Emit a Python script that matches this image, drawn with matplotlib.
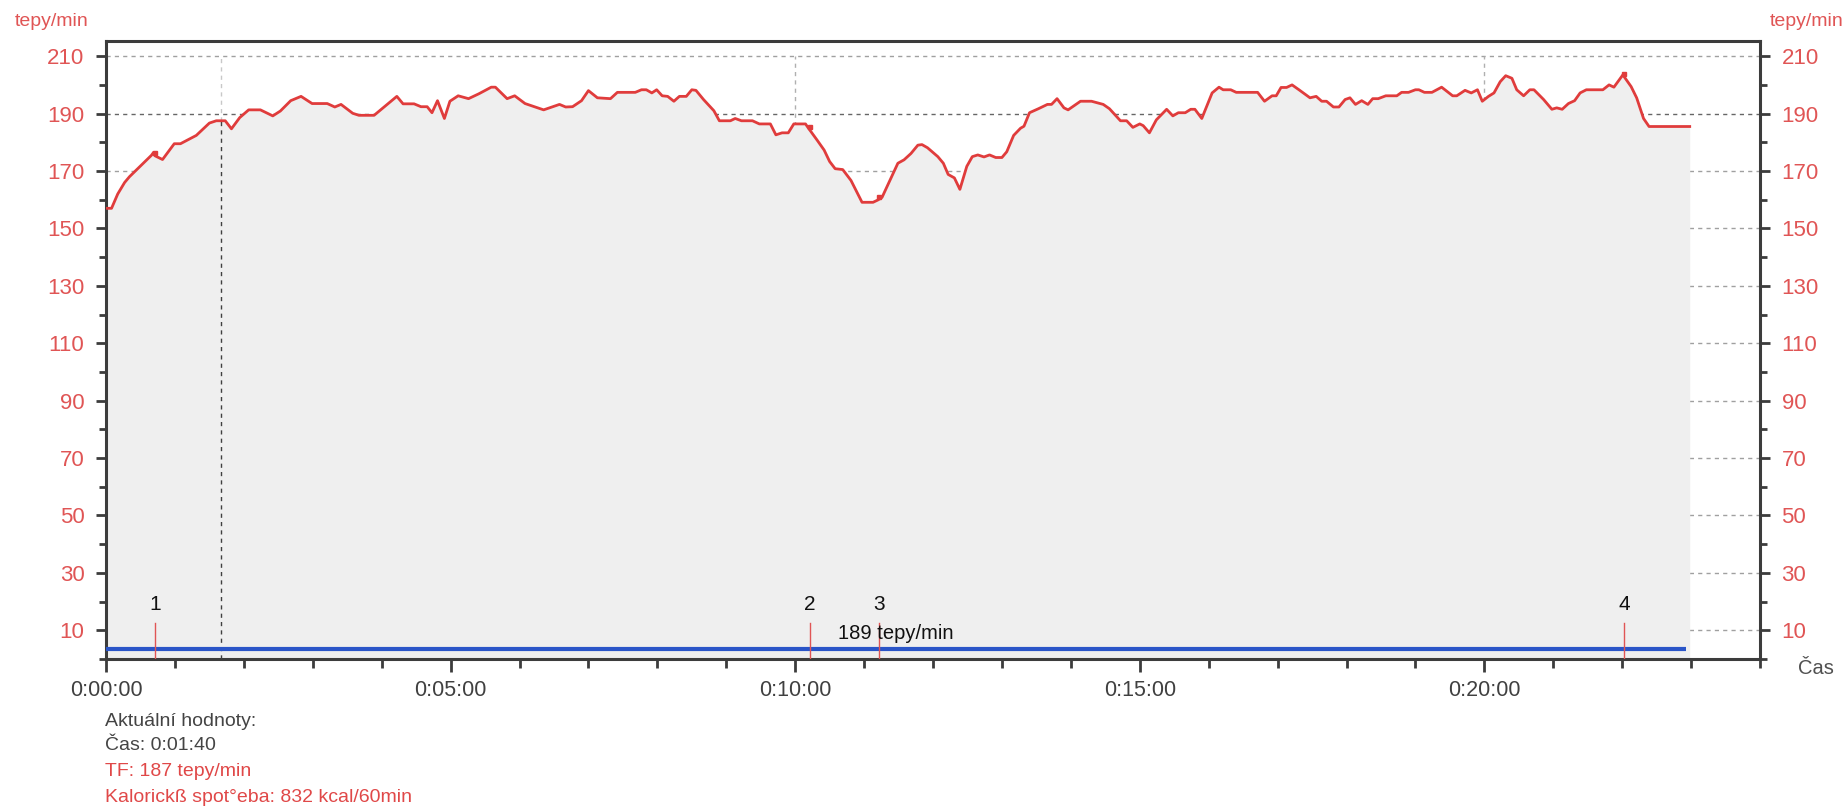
import numpy as np
import matplotlib
matplotlib.use("Agg")
import matplotlib.pyplot as plt

# heart rate record, time in minutes
t_min = [0.0, 0.08, 0.17, 0.27, 0.34, 0.66, 0.69, 0.71, 0.82, 0.99, 1.08, 1.31, 1.50, 1.60, 1.73,
         1.82, 1.94, 2.07, 2.24, 2.42, 2.53, 2.68, 2.83, 2.99, 3.21, 3.32, 3.41, 3.58, 3.67, 3.89,
         4.22, 4.31, 4.47, 4.57, 4.66, 4.73, 4.81, 4.91, 4.99, 5.11, 5.26, 5.41, 5.59, 5.65, 5.82,
         5.93, 6.08, 6.35, 6.58, 6.67, 6.77, 6.90, 7.00, 7.13, 7.32, 7.42, 7.68, 7.77, 7.84, 7.92,
         7.99, 8.07, 8.15, 8.24, 8.32, 8.42, 8.50, 8.56, 8.67, 8.82, 8.90, 9.06, 9.13, 9.22, 9.38,
         9.48, 9.64, 9.72, 9.81, 9.90, 9.98, 10.15, 10.19, 10.32, 10.42, 10.50, 10.58, 10.69, 10.81,
         10.97, 11.13, 11.20, 11.26, 11.49, 11.58, 11.68, 11.78, 11.84, 11.92, 12.07, 12.15, 12.22,
         12.31, 12.39, 12.49, 12.57, 12.65, 12.74, 12.82, 12.91, 13.00, 13.07, 13.17, 13.27, 13.32,
         13.40, 13.53, 13.66, 13.72, 13.80, 13.90, 13.96, 14.14, 14.30, 14.47, 14.56, 14.72, 14.81,
         14.90, 15.00, 15.05, 15.14, 15.24, 15.39, 15.48, 15.56, 15.66, 15.74, 15.80, 15.90, 16.05,
         16.15, 16.21, 16.32, 16.40, 16.71, 16.81, 16.92, 16.98, 17.05, 17.13, 17.21, 17.31, 17.47,
         17.56, 17.64, 17.71, 17.81, 17.89, 17.98, 18.05, 18.13, 18.22, 18.31, 18.38, 18.46, 18.57,
         18.73, 18.80, 18.90, 19.00, 19.05, 19.13, 19.24, 19.38, 19.54, 19.60, 19.72, 19.81, 19.90,
         19.97, 20.06, 20.14, 20.23, 20.31, 20.40, 20.47, 20.57, 20.66, 20.72, 20.86, 20.98, 21.05,
         21.13, 21.22, 21.31, 21.39, 21.48, 21.72, 21.81, 21.88, 22.01, 22.03, 22.13, 22.21, 22.31,
         22.39, 22.98]
hr = [157, 157, 162, 166, 168, 175.5, 176.5, 175.3, 174, 179.5, 179.5, 182.4, 186.7, 187.5, 187.5,
      184.7, 188.6, 191.3, 191.3, 189.2, 190.9, 194.5, 196, 193.5, 193.5, 192.3, 193.2, 190.1, 189.4, 189.4,
      196, 193.4, 193.4, 192.4, 192.4, 190.3, 194.5, 188.3, 194.3, 196.2, 195.2, 196.9, 199.2, 199.2, 195.2,
      196.2, 193.5, 191.3, 193.2, 192.3, 192.4, 194.5, 198, 195.5, 195.2, 197.4, 197.4, 198.3, 198.3, 197.2,
      198.3, 196.2, 196, 194.3, 196, 196, 198.3, 198.1, 194.9, 191, 187.5, 187.5, 188.3, 187.5, 187.5,
      186.4, 186.4, 182.6, 183.3, 183.3, 186.4, 186.4, 185, 180.7, 177.3, 173.3, 170.8, 170.5, 166.7,
      159.1, 159.1, 159.9, 160.8, 172.7, 173.9, 176.1, 179, 179.2, 178.1, 175, 172.7, 168.8,
      167.6, 163.6, 171.6, 175, 175.6, 174.9, 175.6, 174.7, 174.7, 176.7, 182.4, 184.9, 185.6,
      190.3, 191.7, 193.2, 193.2, 195.2, 192, 191.3, 194.3, 194.3, 193.2, 191.7, 187.5, 187.5,
      185.2, 186.4, 185.8, 183.3, 187.8, 191.5, 189.2, 190.3, 190.3, 191.5, 191.5, 188.3, 197.2,
      199.2, 198.3, 198.3, 197.4, 197.4, 194.3, 196.2, 196.2, 199.1, 199.1, 200, 198.3, 195.5,
      196, 194.3, 194.3, 192.3, 192.3, 194.9, 195.5, 193.2, 194.5, 193.2, 195.2, 195.2, 196.2,
      196.2, 197.4, 197.4, 198.3, 198.3, 197.4, 197.4, 199.2, 196.2, 196.2, 198.1, 197.2, 198.3,
      194.3, 196, 197.2, 201.1, 203.2, 202.3, 198.3, 196.2, 198.3, 198.3, 194.9, 191.5, 192,
      191.5, 193.5, 194.5, 197.2, 198.3, 198.3, 200, 199.2, 203.5, 202.8, 199.4, 195.5, 188.3,
      185.5, 185.5]

mark_t = [0.71, 10.21, 11.21, 22.03]
mark_lbl = ["1", "2", "3", "4"]
y_ticks = list(range(10, 211, 20))
y_minor = list(range(0, 211, 20))
x_ticks = [0, 5, 10, 15, 20]
x_lbls = ["0:00:00", "0:05:00", "0:10:00", "0:15:00", "0:20:00"]
x_minor = list(range(0, 25))
grid_t = [10, 20]
cursor_t = 100 / 60
base_level = 3.6
avg_text = "189 tepy/min"
info_lines = ["Aktuální hodnoty:", "Čas: 0:01:40", "TF: 187 tepy/min",
              "Kalorickß spot°eba: 832 kcal/60min"]
info_cols = ["#444444", "#444444", "#e04848", "#e04848"]

FONT = ['Liberation Sans Narrow', 'Liberation Sans', 'DejaVu Sans']
plt.rcParams['font.family'] = FONT
RED = '#e03c3c'
LRED = '#e05555'
AX = '#3c3c3c'

fig = plt.figure(figsize=(18.47, 8.08), dpi=100)
ax = fig.add_axes([0.0574, 0.1844, 0.8955, 0.7649])
ax.set_xlim(0, 24)
ax.set_ylim(0, 215.3)

# grid (hidden under the fill)
for y in y_ticks:
    c = '#666666' if y == 190 else '#a0a0a0'
    ax.plot([0, 24], [y, y], ls=(0, (3, 3)), lw=1, color=c, zorder=1)
for x in grid_t:
    ax.plot([x, x], [0, 210], ls=(0, (3, 3)), lw=1, color='#b0b0b0', zorder=1)

ax.fill_between(t_min, 0, hr, color='#efefef', lw=0, zorder=2)
ax.plot(t_min, hr, color=RED, lw=2, zorder=5, solid_joinstyle='round')

# cursor line
cur_v = np.interp(cursor_t, t_min, hr)
ax.plot([cursor_t, cursor_t], [0, cur_v], ls=(0, (3, 3)), lw=1, color='#404040', zorder=3)
ax.plot([cursor_t, cursor_t], [cur_v, 210], ls=(0, (3, 3)), lw=1, color='#c8c8c8', zorder=3)

# base line
ax.hlines(base_level, 0, t_min[-1] - 0.05, color='#2a55c8', lw=3, zorder=4)

# markers
for t, lb in zip(mark_t, mark_lbl):
    ax.plot([t, t], [0, 12.5], color=LRED, lw=1, zorder=4)
    ax.text(t, 19, lb, ha='center', va='center', fontsize=15, color='#111111', zorder=6)
    ax.plot(t, np.interp(t, t_min, hr) + 1, marker='s', ms=3, color=RED, zorder=6)
ax.text(11.46, 9, avg_text, ha='center', va='center', fontsize=14.5, color='#111111', zorder=6)

for sp in ax.spines.values():
    sp.set_color(AX)
    sp.set_linewidth(2.2)

ax.set_yticks(y_ticks)
ax.set_yticks(y_minor, minor=True)
ax.set_xticks(x_ticks)
ax.set_xticklabels(x_lbls)
ax.set_xticks(x_minor, minor=True)
ax.tick_params(axis='y', which='major', length=7.5, width=2, color=AX, labelcolor=LRED,
               labelsize=16, left=True, right=True, labelleft=True, labelright=True, pad=8)
ax.tick_params(axis='y', which='minor', length=5, width=2, color=AX, left=True, right=True)
ax.tick_params(axis='x', which='major', length=9, width=2, color=AX, labelcolor='#404040',
               labelsize=15.5, pad=6)
ax.tick_params(axis='x', which='minor', length=6.5, width=2, color=AX)

fig.text(15 / 1847, 1 - 22 / 808, "tepy/min", color=LRED, fontsize=14, ha='left', va='center')
fig.text(1770 / 1847, 1 - 22 / 808, "tepy/min", color=LRED, fontsize=14, ha='left', va='center')
fig.text(1798 / 1847, 1 - 669 / 808, "Čas", color='#505050', fontsize=14.5, ha='left', va='center')

ys = [722, 745, 772, 797]
for s, c, y in zip(info_lines, info_cols, ys):
    fig.text(105 / 1847, 1 - y / 808, s, color=c, fontsize=14, ha='left', va='center')

fig.savefig("out.png", dpi=100)
